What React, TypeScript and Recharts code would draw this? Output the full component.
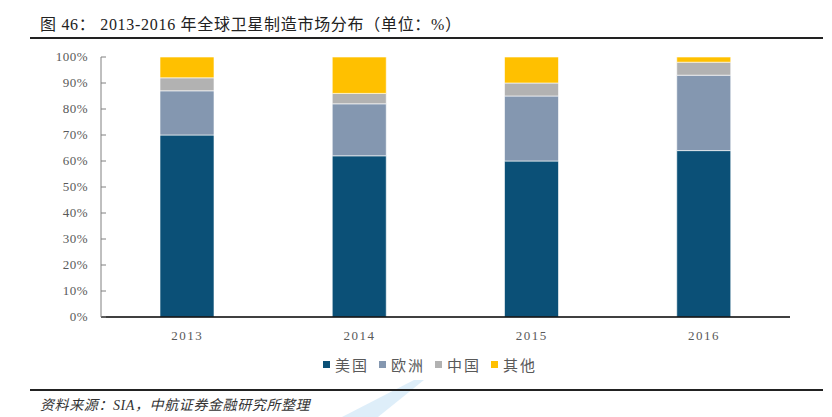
import React from 'react';
import { BarChart, Bar, XAxis, YAxis } from 'recharts';

const years = ['2013', '2014', '2015', '2016'];
const usa = [70, 62, 60, 64];
const europe = [17, 20, 25, 29];
const china = [5, 4, 5, 5];
const others = [8, 14, 10, 2];
const yTicks = [0, 10, 20, 30, 40, 50, 60, 70, 80, 90, 100];

const series = [
  { key: 'usa', name: '美国', color: '#0B5077' },
  { key: 'europe', name: '欧洲', color: '#8497B0' },
  { key: 'china', name: '中国', color: '#B2B2B2' },
  { key: 'others', name: '其他', color: '#FFC000' },
];

const data = years.map((year, i) => ({
  year,
  usa: usa[i],
  europe: europe[i],
  china: china[i],
  others: others[i],
}));

const serif = '"Liberation Serif", "DejaVu Serif", "Noto Sans CJK SC", serif';

// y ticks sit inside the plot, so draw the tick mark together with the label
const YTick = (props: any) => {
  const { x, y, payload } = props;
  return (
    <g>
      <line x1={x + 8} x2={x + 13} y1={y} y2={y} stroke="#808080" />
      <text x={x - 5} y={y} dy={4} textAnchor="end" fill="#595959" fontSize={13} fontFamily={serif} letterSpacing={0.5}>
        {payload.value}%
      </text>
    </g>
  );
};

const App: React.FC = () => {
  return (
    <div style={{ position: 'absolute', left: 0, top: 0, width: 832, height: 417, background: '#fff', overflow: 'hidden' }}>
      {/* watermark */}
      <svg width={832} height={417} style={{ position: 'absolute', left: 0, top: 0 }}>
        <polygon points="342,417 378,417 424,380 414,380" fill="#D6EAF8" opacity={0.8} />
      </svg>

      <div style={{ position: 'absolute', left: 40, top: 11, fontSize: 16, fontFamily: serif, color: '#222', whiteSpace: 'nowrap', letterSpacing: 0.7 }}>
        图 46： 2013-2016 年全球卫星制造市场分布（单位：%）
      </div>
      <div style={{ position: 'absolute', left: 30, top: 37, width: 793, height: 1.5, background: '#222' }} />

      <div style={{ position: 'absolute', left: 0, top: 0 }}>
        <BarChart width={832} height={417} data={data} margin={{ top: 57, right: 42, left: 41, bottom: 70 }}>
          <XAxis
            dataKey="year"
            height={30}
            tickLine={false}
            axisLine={{ stroke: '#000', strokeWidth: 1.5 }}
            tick={{ fill: '#595959', fontSize: 13, fontFamily: serif, letterSpacing: 1.5 }}
            tickMargin={8}
          />
          <YAxis
            width={60}
            domain={[0, 100]}
            ticks={yTicks}
            interval={0}
            tickLine={false}
            tickSize={6}
            tickMargin={2}
            axisLine={{ stroke: '#808080' }}
            tick={<YTick />}
          />
          {series.map((s) => (
            <Bar
              key={s.key}
              dataKey={s.key}
              name={s.name}
              stackId="a"
              fill={s.color}
              stroke="#ffffff"
              strokeWidth={0.6}
              barSize={54}
              isAnimationActive={false}
            />
          ))}
        </BarChart>
      </div>

      <div style={{ position: 'absolute', left: 0, top: 354, width: 870, display: 'flex', justifyContent: 'center', fontFamily: serif, fontSize: 15, color: '#595959' }}>
        {series.map((s) => (
          <div key={s.key} style={{ display: 'flex', alignItems: 'center', marginRight: 10 }}>
            <span style={{ display: 'inline-block', width: 7, height: 7, background: s.color, marginRight: 5 }} />
            <span style={{ letterSpacing: 2 }}>{s.name}</span>
          </div>
        ))}
      </div>

      <div style={{ position: 'absolute', left: 30, top: 389, width: 793, height: 1.5, background: '#222' }} />
      <div style={{ position: 'absolute', left: 40, top: 394, fontSize: 14, fontStyle: 'italic', fontFamily: serif, color: '#333', whiteSpace: 'nowrap', letterSpacing: 0.6 }}>
        资料来源：SIA，中航证券金融研究所整理
      </div>
    </div>
  );
};

export default App;
